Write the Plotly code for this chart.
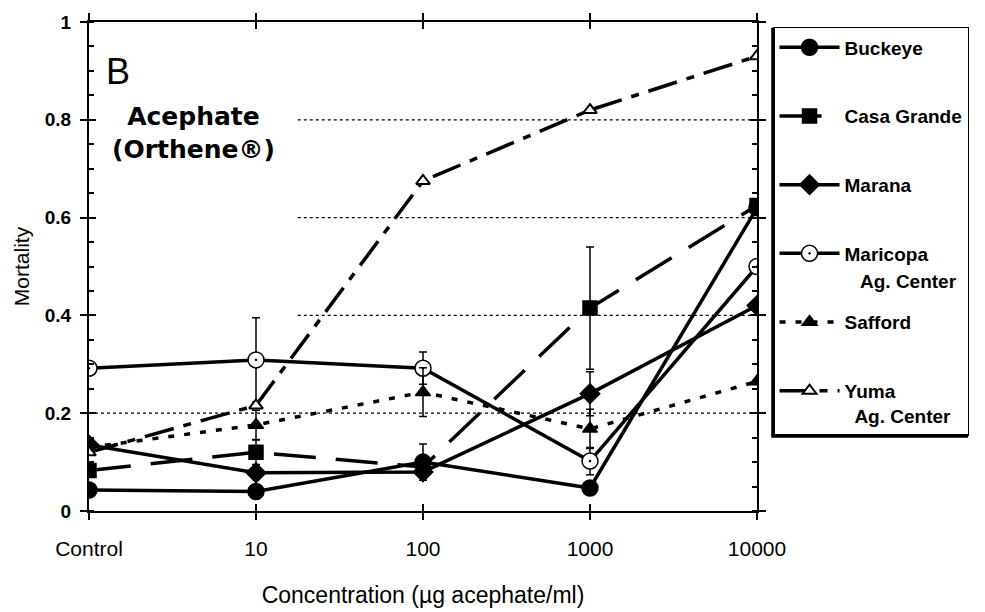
import plotly.graph_objects as go

# ---------------- data ----------------
categories = ["Control", "10", "100", "1000", "10000"]
x_pos = [0, 1, 2, 3, 4]

buckeye = [0.043, 0.040, 0.100, 0.047, 0.620]
casa_grande = [0.083, 0.120, 0.090, 0.415, 0.625]
marana = [0.135, 0.078, 0.080, 0.240, 0.420]
maricopa = [0.292, 0.309, 0.292, 0.102, 0.500]
safford = [0.130, 0.176, 0.243, 0.168, 0.265]
yuma = [0.120, 0.216, 0.675, 0.820, 0.930]

buckeye_err = [None, None, 0.037, None, None]
casa_grande_err = [None, 0.025, None, 0.125, None]
marana_err = [None, None, None, 0.045, None]
maricopa_err = [None, 0.086, 0.033, 0.028, None]
safford_err = [None, 0.030, 0.050, 0.040, None]
yuma_err = [None, None, None, None, None]

series_names = ["Buckeye", "Casa Grande", "Marana", "Maricopa",
                "Safford", "Yuma<br>  Ag. Center"]
maricopa_sub = "Ag. Center"
grid_levels = [0.2, 0.4, 0.6, 0.8]
y_ticks = [0, 0.2, 0.4, 0.6, 0.8, 1]

FONT = "Liberation Sans, Arial, sans-serif"
LW = 3.5

fig = go.Figure()


def add(name, ys, errs, dash, symbol, size, mcolor, group, mlw=1.5):
    fig.add_trace(go.Scatter(
        x=x_pos, y=ys, name=name, mode="lines+markers",
        legendgroup=group,
        line=dict(color="black", width=LW, dash=dash),
        marker=dict(symbol=symbol, size=size, color=mcolor,
                    line=dict(color="black", width=mlw)),
        error_y=dict(type="data", array=errs, visible=True,
                     color="black", thickness=1.5, width=4),
        hoverinfo="skip",
    ))


add(series_names[0], buckeye, buckeye_err, "solid", "circle", 16, "black", "g1")
add(series_names[1], casa_grande, casa_grande_err, "42px,20px", "square", 14, "black", "g2")
add(series_names[2], marana, marana_err, "solid", "diamond", 15, "black", "g3")
add(series_names[3], maricopa, maricopa_err, "solid", "circle-dot", 16, "white", "g4")
add(series_names[4], safford, safford_err, "6px,10px", "triangle-up", 13, "black", "g5")
add(series_names[5], yuma, yuma_err, "30px,10px,8px,10px", "triangle-up", 12, "white", "g6", 2)

# dummy traces for overlay tick axes
fig.add_trace(go.Scatter(x=[None], y=[None], xaxis="x2", yaxis="y", showlegend=False,
                         hoverinfo="skip"))
fig.add_trace(go.Scatter(x=[None], y=[None], xaxis="x", yaxis="y2", showlegend=False,
                         hoverinfo="skip"))

shapes = []
for g in grid_levels:
    shapes.append(dict(type="line", xref="x", yref="y",
                       x0=0 if g == 0.2 else 1.25, x1=4, y0=g, y1=g,
                       line=dict(color="black", width=1.3, dash="dot"),
                       layer="below"))
# heavier left / bottom edge of the legend frame
shapes.append(dict(type="line", xref="paper", yref="paper", x0=1.0235, x1=1.0235,
                   y0=0.154, y1=0.988, line=dict(color="black", width=3), layer="above"))
shapes.append(dict(type="line", xref="paper", yref="paper", x0=1.0215, x1=1.316,
                   y0=0.154, y1=0.154, line=dict(color="black", width=4), layer="above"))

fig.update_layout(
    width=985, height=612,
    margin=dict(l=81, r=236, t=14, b=109, autoexpand=False),
    paper_bgcolor="white", plot_bgcolor="white",
    font=dict(family=FONT, color="black"),
    showlegend=True,
    shapes=shapes,
    xaxis=dict(
        range=[0, 4], tickmode="array", tickvals=x_pos, ticktext=categories,
        showgrid=False, zeroline=False, showline=True, linecolor="black",
        linewidth=2, mirror="ticks", ticks="outside", ticklen=7, tickwidth=1.5,
        tickcolor="black", tickfont=dict(size=21, family=FONT),
        ticklabelstandoff=11,
        title=dict(text="Concentration (µg acephate/ml)",
                   font=dict(size=23, family=FONT), standoff=28),
        automargin=False,
    ),
    xaxis2=dict(
        range=[0, 4], overlaying="x", anchor="y", tickmode="array", tickvals=x_pos,
        showticklabels=False, showgrid=False, zeroline=False, showline=False,
        mirror="ticks", ticks="inside", ticklen=7, tickwidth=1.5, tickcolor="black",
    ),
    yaxis=dict(
        range=[0, 1], tickmode="array", tickvals=y_ticks,
        ticktext=[f"{v:g}" for v in y_ticks],
        showgrid=False, zeroline=False, showline=True, linecolor="black",
        linewidth=2, mirror="ticks", ticks="outside", ticklen=7, tickwidth=1.5,
        tickcolor="black", tickfont=dict(size=19, family=FONT, weight="bold"),
        ticklabelstandoff=5,
        minor=dict(ticks="inside", dtick=0.05, ticklen=5, tickwidth=1.5,
                   tickcolor="black", showgrid=False),
        title=dict(text="Mortality", font=dict(size=21, family=FONT), standoff=9),
        automargin=False,
    ),
    yaxis2=dict(
        range=[0, 1], overlaying="y", anchor="x", tickmode="array", tickvals=y_ticks,
        showticklabels=False, showgrid=False, zeroline=False, showline=False,
        mirror="ticks", ticks="inside", ticklen=7, tickwidth=1.5, tickcolor="black",
    ),
    legend=dict(
        x=1.024, y=0.990, xanchor="left", yanchor="top",
        bgcolor="white", bordercolor="black", borderwidth=1.5,
        font=dict(size=19, family=FONT, weight="bold"),
        traceorder="grouped", tracegroupgap=41, itemwidth=60, valign="top",
    ),
    annotations=[
        dict(text="B", xref="paper", yref="paper", x=0.022, y=0.898,
             xanchor="left", yanchor="middle", showarrow=False,
             font=dict(size=36, family=FONT)),
        dict(text="Acephate<br>(Orthene®)", xref="paper", yref="paper",
             x=0.156, y=0.774, xanchor="center", yanchor="middle", showarrow=False,
             align="center", bgcolor="white",
             font=dict(size=25, family="DejaVu Sans, sans-serif", weight="bold")),
        dict(text=maricopa_sub, xref="paper", yref="paper",
             x=(858 - 89) / 668, y=(511 - 281) / 489, xanchor="left",
             yanchor="middle", showarrow=False,
             font=dict(size=19, family=FONT, weight="bold")),
    ],
)

fig.write_html("out.html")
